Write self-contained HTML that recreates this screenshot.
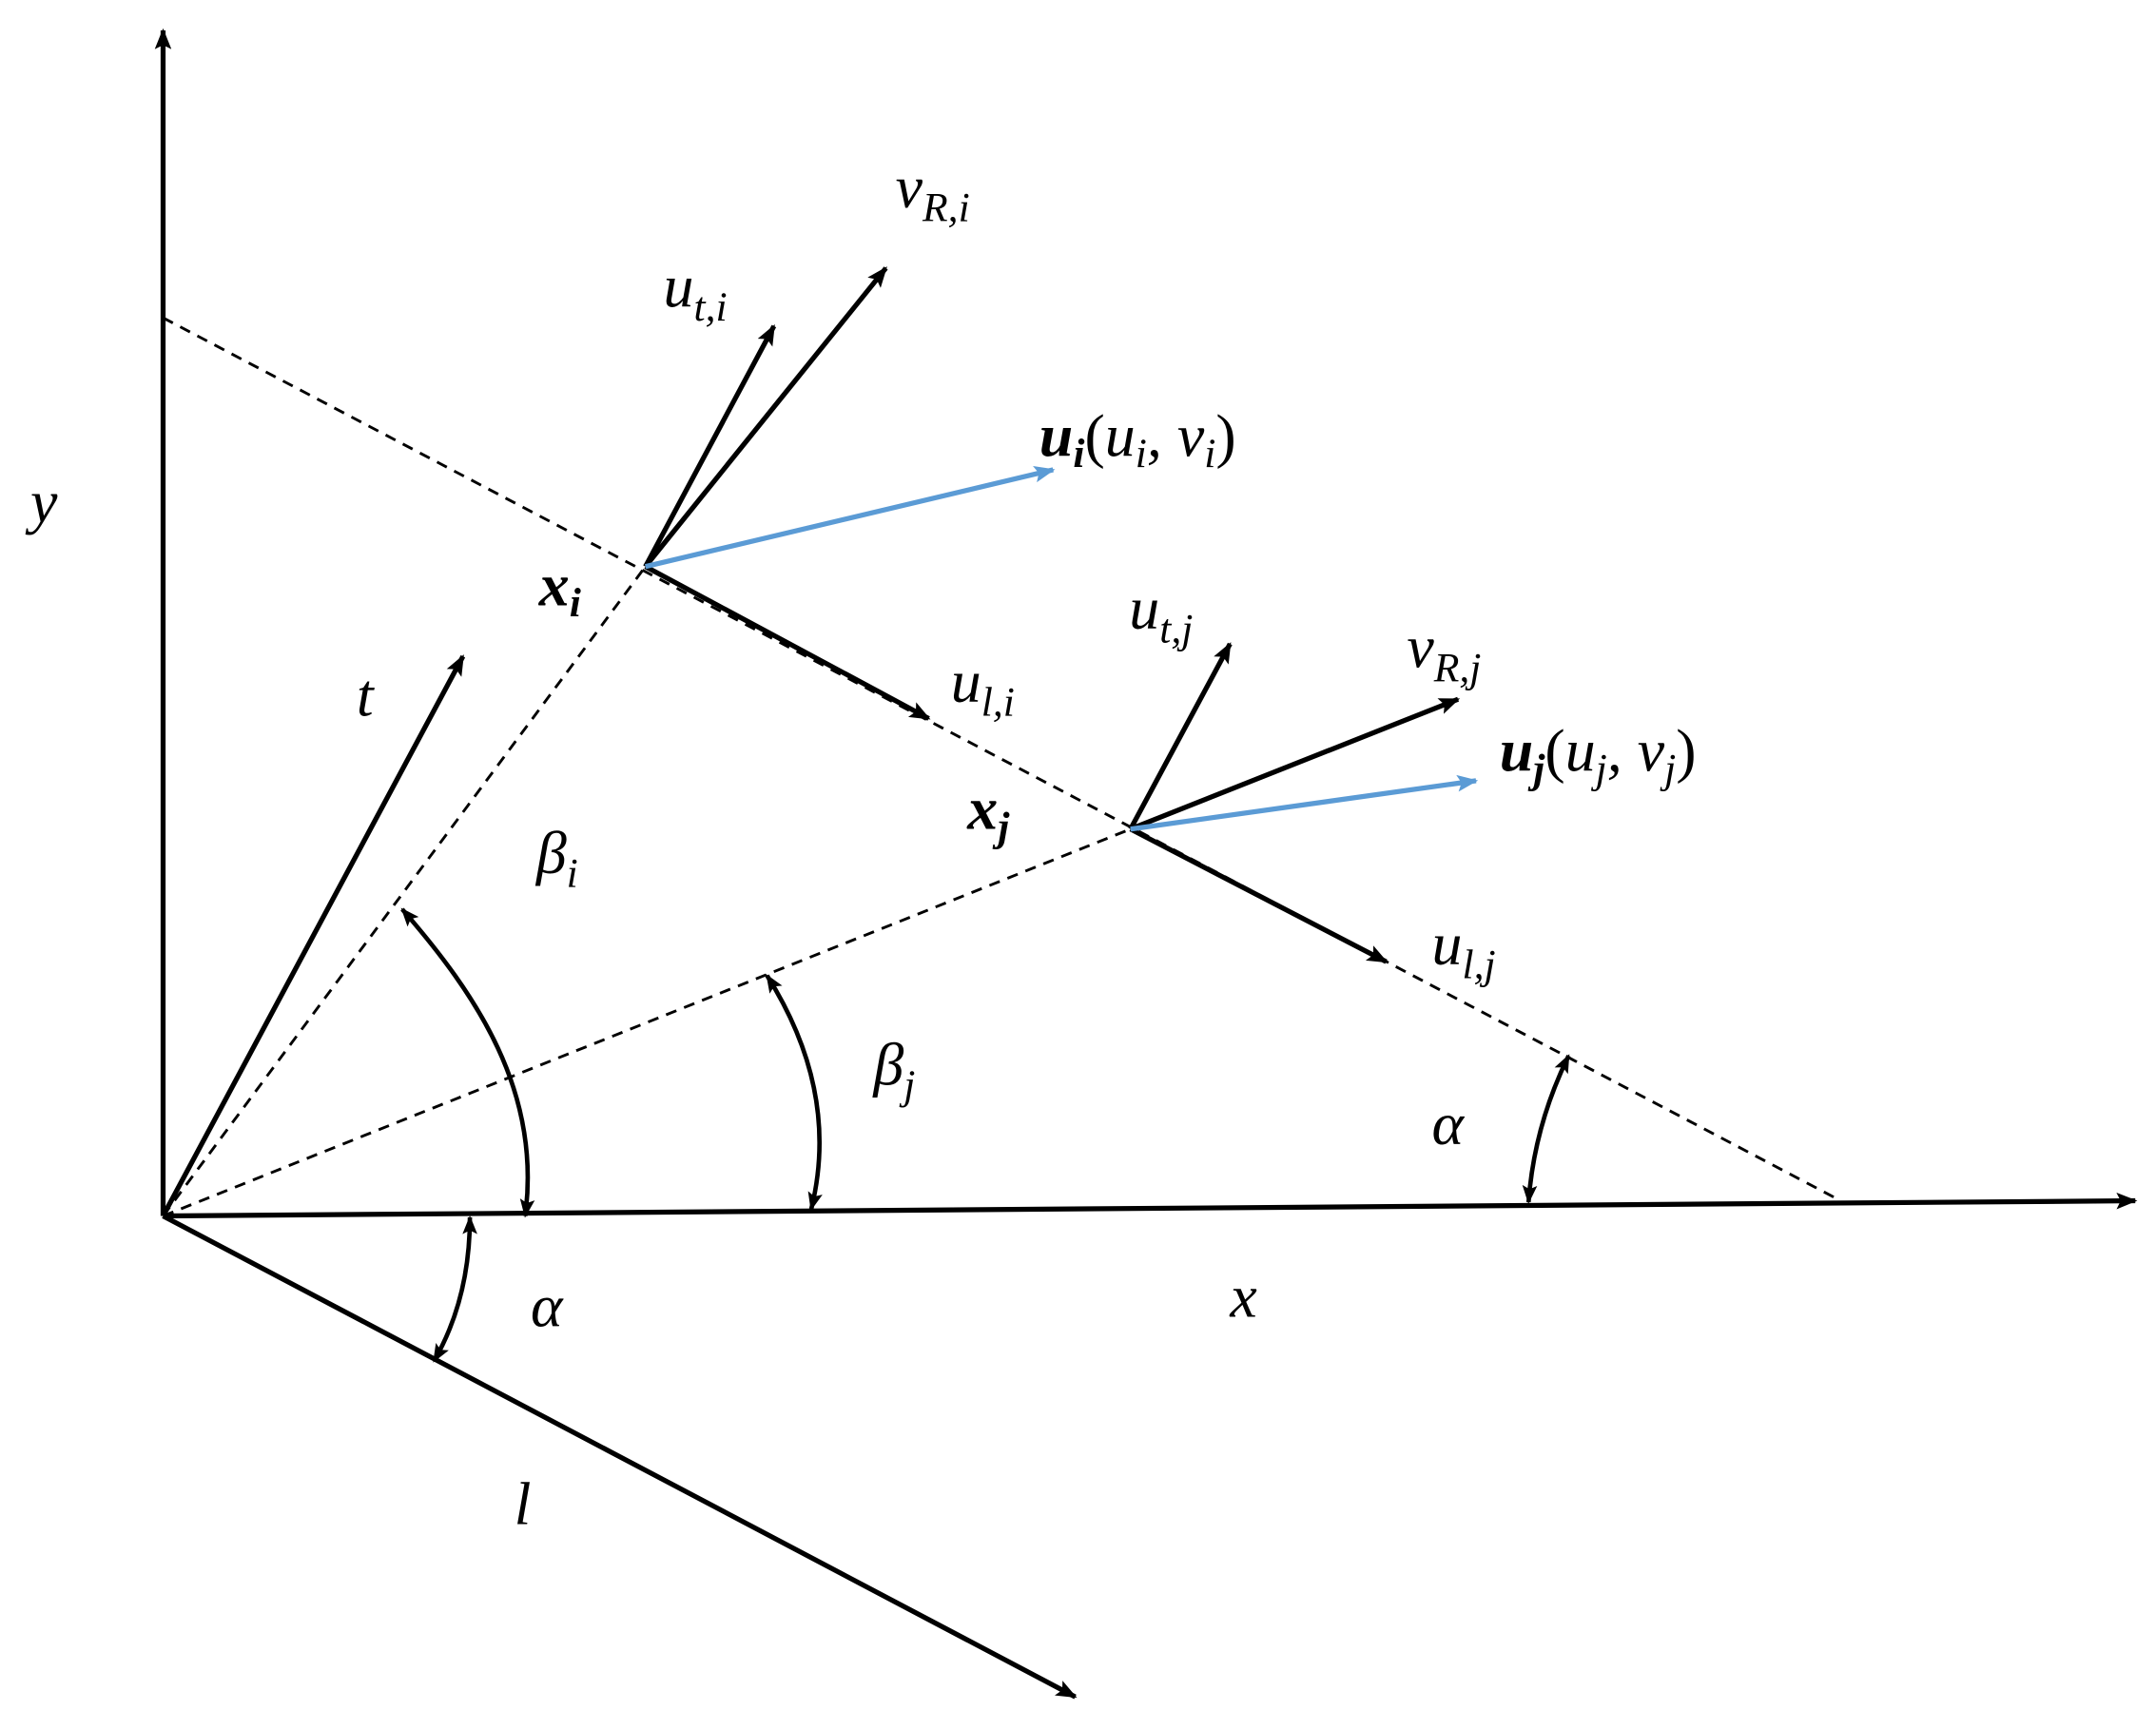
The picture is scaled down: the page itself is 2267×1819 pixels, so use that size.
<!DOCTYPE html>
<html><head><meta charset="utf-8"><style>
html,body{margin:0;padding:0;background:#fff;}
svg{display:block;}
text{font-family:"Liberation Serif","Times New Roman",serif;font-style:italic;fill:#000;}
</style></head><body>
<svg width="2267" height="1819" viewBox="0 0 1560 1252" preserveAspectRatio="none" xmlns="http://www.w3.org/2000/svg">
<defs>
<marker id="a" viewBox="0 0 10 10" refX="9" refY="5" markerWidth="4.2" markerHeight="4.2" orient="auto-start-reverse" markerUnits="strokeWidth"><path d="M0,1 L10,5 L0,9 L2,5 z" fill="#000"/></marker>
<marker id="b" viewBox="0 0 10 10" refX="9" refY="5" markerWidth="4.2" markerHeight="4.2" orient="auto" markerUnits="strokeWidth"><path d="M0,1 L10,5 L0,9 L2,5 z" fill="#5b9bd5"/></marker>
</defs>
<g fill="none" stroke="#000" stroke-width="2" stroke-dasharray="8 6">
<line x1="118" y1="230" x2="1330" y2="868"/>
<line x1="118" y1="880" x2="467" y2="410"/>
<line x1="118" y1="880" x2="818" y2="600"/>
</g>
<g fill="none" stroke="#000" stroke-width="3.6" marker-end="url(#a)">
<line x1="118" y1="880" x2="118" y2="22"/>
<line x1="118" y1="880" x2="1545" y2="869"/>
<line x1="118" y1="880" x2="778" y2="1228"/>
<line x1="118" y1="880" x2="335" y2="475"/>
<line x1="467" y1="410" x2="560" y2="236"/>
<line x1="467" y1="410" x2="641" y2="194"/>
<line x1="467" y1="410" x2="672" y2="520"/>
<line x1="818" y1="600" x2="890" y2="466"/>
<line x1="818" y1="600" x2="1055" y2="506"/>
<line x1="818" y1="600" x2="1003" y2="696"/>
</g>
<g fill="none" stroke="#5b9bd5" stroke-width="3.6" marker-end="url(#b)">
<line x1="467" y1="410" x2="762" y2="340"/>
<line x1="818" y1="600" x2="1068" y2="565"/>
</g>
<g fill="none" stroke="#000" stroke-width="3.2" marker-start="url(#a)" marker-end="url(#a)">
<path d="M291 658 C345 720 392 790 380 880"/>
<path d="M555 706 Q608 790 587 875"/>
<path d="M1135 764 Q1110 815 1106 870"/>
<path d="M340 881 Q340 940 314 985"/>
</g>
<g font-size="44" font-family="Liberation Serif, serif" font-style="italic">
<text x="22" y="378">y</text>
<text x="258" y="518">t</text>
<text x="388" y="632">β<tspan font-size="30" dy="10">i</tspan></text>
<text x="390" y="438" font-weight="bold">x<tspan font-size="30" dy="8">i</tspan></text>
<text x="480" y="222">u<tspan font-size="30" dy="10">t,i</tspan></text>
<text x="648" y="150">v<tspan font-size="30" dy="10">R,i</tspan></text>
<text x="752" y="330"><tspan font-weight="bold">u</tspan><tspan font-size="30" dy="8" font-weight="bold">i</tspan><tspan dy="-8" font-style="normal">(</tspan>u<tspan font-size="30" dy="8">i</tspan><tspan dy="-8">, v</tspan><tspan font-size="30" dy="8">i</tspan><tspan dy="-8" font-style="normal">)</tspan></text>
<text x="688" y="508">u<tspan font-size="30" dy="10">l,i</tspan></text>
<text x="817" y="455">u<tspan font-size="30" dy="10">t,j</tspan></text>
<text x="1018" y="483">v<tspan font-size="30" dy="10">R,j</tspan></text>
<text x="1085" y="558"><tspan font-weight="bold">u</tspan><tspan font-size="30" dy="8" font-weight="bold">j</tspan><tspan dy="-8" font-style="normal">(</tspan>u<tspan font-size="30" dy="8">j</tspan><tspan dy="-8">, v</tspan><tspan font-size="30" dy="8">j</tspan><tspan dy="-8" font-style="normal">)</tspan></text>
<text x="700" y="600" font-weight="bold">x<tspan font-size="30" dy="8">j</tspan></text>
<text x="1036" y="698">u<tspan font-size="30" dy="10">l,j</tspan></text>
<text x="632" y="785">β<tspan font-size="30" dy="10">j</tspan></text>
<text x="1036" y="828">α</text>
<text x="384" y="960">α</text>
<text x="890" y="953">x</text>
<text x="372" y="1103">l</text>
</g>
</svg>
</body></html>
